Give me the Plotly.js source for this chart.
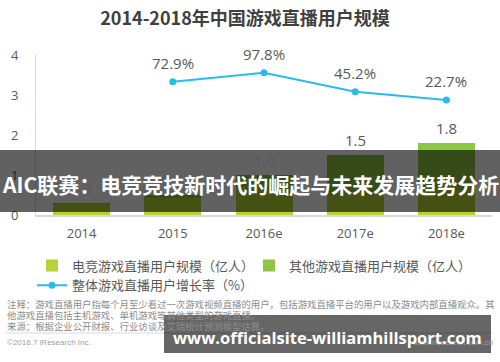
<!DOCTYPE html>
<html><head><meta charset="utf-8">
<script src="https://cdn.plot.ly/plotly-3.0.1.min.js"></script>
<style>html,body{margin:0;padding:0;background:#fff;overflow:hidden;} #chart{width:500px;height:362px;}</style>
</head><body><div id="chart"></div>
<script>
// ---- data ----
const categories = ['2014', '2015', '2016e', '2017e', '2018e'];
const esportsUsers = [0.27, 0.42, 0.72, 0.58, 0.62];
const otherUsers = [0.03, 0.08, 0.28, 0.92, 1.18];
const totalUsers = [0.3, 0.5, 1.0, 1.5, 1.8];
const totalLabels = ['0.3', '0.5', '1.0', '1.5', '1.8'];
const growthCats = ['2015', '2016e', '2017e', '2018e'];
const growthRate = [72.9, 97.8, 45.2, 22.7];
const growthLabels = ['72.9%', '97.8%', '45.2%', '22.7%'];
const yTicks = [0, 1, 2, 3, 4];
const seriesNames = ['电竞游戏直播用户规模（亿人）', '其他游戏直播用户规模（亿人）', '整体游戏直播用户增长率（%）'];
const noteLines = [
  '注释：游戏直播用户指每个月至少看过一次游戏视频直播的用户，包括游戏直播平台的用户以及游戏内部直播观众。其',
  '他游戏直播包括主机游戏、单机游戏等其他类型的游戏直播。',
  '来源：根据企业公开财报、行业访谈及艾瑞统计预测模型估算。'
];
const titleText = '2014-2018年中国游戏直播用户规模';
const bannerText = 'AIC联赛：电竞竞技新时代的崛起与未来发展趋势分析';
const watermarkText = 'www.officialsite-williamhillsport.com';

// ---- layout helpers (pixel -> paper) ----
const L = 36, R = 492, T = 55, B = 215;
const px = x => (x - L) / (R - L);
const py = y => (B - y) / (B - T);
const catIndex = c => categories.indexOf(c);

const FONT = '"Open Sans", "Noto Sans CJK SC", sans-serif';
const CJK = '"Noto Sans CJK SC", "Open Sans", sans-serif';

const traces = [
  {type: 'bar', x: categories, y: esportsUsers, name: seriesNames[0],
   marker: {color: '#b5d334'}, hoverinfo: 'none'},
  {type: 'bar', x: categories, y: otherUsers, name: seriesNames[1],
   marker: {color: '#8dc63f'}, hoverinfo: 'none'},
  {type: 'scatter', mode: 'lines+markers', x: growthCats, y: growthRate, yaxis: 'y2',
   name: seriesNames[2], line: {color: '#2bbbe8', width: 2},
   marker: {color: '#2bbbe8', size: 7}, hoverinfo: 'none'}
];

const annotations = [];
categories.forEach((c, i) => annotations.push({
  x: catIndex(c), y: totalUsers[i], xref: 'x', yref: 'y', text: totalLabels[i], showarrow: false,
  yshift: 15, font: {family: FONT, size: 15, color: '#595959'}
}));
growthCats.forEach((c, i) => annotations.push({
  x: catIndex(c), y: growthRate[i], xref: 'x', yref: 'y2', text: growthLabels[i], showarrow: false,
  yshift: 19, font: {family: FONT, size: 15, color: '#595959'}
}));
const noteY = [304, 315, 326];
noteLines.forEach((t, i) => annotations.push({
  x: px(5), y: py(noteY[i]), xref: 'paper', yref: 'paper', xanchor: 'left', yanchor: 'middle',
  text: t, showarrow: false, font: {family: CJK, size: 9.4, color: '#8c8c8c'}
}));
annotations.push({x: px(5), y: py(342), xref: 'paper', yref: 'paper', xanchor: 'left', yanchor: 'middle',
  text: '©2016.7 iResearch Inc.', showarrow: false, font: {family: 'Liberation Sans, Arial, sans-serif', size: 8, color: '#a0a0a0'}});
annotations.push({x: px(495), y: py(342), xref: 'paper', yref: 'paper', xanchor: 'right', yanchor: 'middle',
  text: 'www.iresearch.com.cn', showarrow: false, font: {family: 'Liberation Sans, Arial, sans-serif', size: 8, color: '#a0a0a0'}});
// overlays
annotations.push({x: px(250), y: py(184), xref: 'paper', yref: 'paper', xanchor: 'center', yanchor: 'middle',
  text: '<b>' + bannerText + '</b>', showarrow: false, font: {family: CJK, size: 21, color: '#ffffff'}});
annotations.push({x: px(327), y: py(337), xref: 'paper', yref: 'paper', xanchor: 'center', yanchor: 'middle',
  text: '<b>' + watermarkText + '</b>', showarrow: false, font: {family: FONT, size: 16.5, color: '#ffffff'}});

const shapes = [
  {type: 'line', xref: 'paper', yref: 'paper', x0: px(5), x1: px(492), y0: py(333), y1: py(333),
   line: {color: '#d9d9d9', width: 1}},
  {type: 'rect', xref: 'paper', yref: 'paper', x0: px(0), x1: px(500), y0: py(212), y1: py(150),
   fillcolor: 'rgba(0,0,0,0.62)', line: {width: 0}, layer: 'above'},
  {type: 'rect', xref: 'paper', yref: 'paper', x0: px(164), x1: px(491), y0: py(353), y1: py(315),
   fillcolor: 'rgba(0,0,0,0.6)', line: {width: 0}, layer: 'above'}
];

const layout = {
  width: 500, height: 362,
  margin: {l: L, r: 500 - R, t: T, b: 362 - B, pad: 0},
  paper_bgcolor: '#ffffff', plot_bgcolor: '#ffffff',
  barmode: 'stack', bargap: 0.375,
  font: {family: FONT, color: '#595959'},
  title: {text: '<b>' + titleText + '</b>', x: 245 / 500, xref: 'container', xanchor: 'center',
          y: 1 - 19 / 362, yref: 'container', yanchor: 'middle',
          font: {family: CJK, size: 18, color: '#404040'}},
  xaxis: {type: 'category', categoryarray: categories, categoryorder: 'array', range: [-0.5, categories.length - 0.5],
          autorange: false, showgrid: false, zeroline: false, showline: true, linecolor: '#d9d9d9', linewidth: 2,
          ticks: '', tickfont: {family: FONT, size: 13, color: '#595959'}, ticklabelstandoff: 5, fixedrange: true},
  yaxis: {range: [0, 4], autorange: false, tickvals: yTicks, showgrid: false, zeroline: false, showline: true,
          linecolor: '#d9d9d9', linewidth: 1, ticks: '', tickfont: {family: FONT, size: 13, color: '#595959'},
          ticklabelstandoff: 14, fixedrange: true},
  yaxis2: {overlaying: 'y', side: 'right', range: [-293.7, 146.5], autorange: false, visible: false, fixedrange: true},
  showlegend: true,
  legend: {orientation: 'h', x: px(32), xanchor: 'left', y: py(250.5), yanchor: 'top',
           traceorder: 'normal', entrywidth: 172, entrywidthmode: 'pixels',
           font: {family: CJK, size: 13, color: '#595959'}, bgcolor: 'rgba(0,0,0,0)'},
  annotations: annotations,
  shapes: shapes
};

Plotly.newPlot('chart', traces, layout, {displayModeBar: false, staticPlot: true});
</script></body></html>
